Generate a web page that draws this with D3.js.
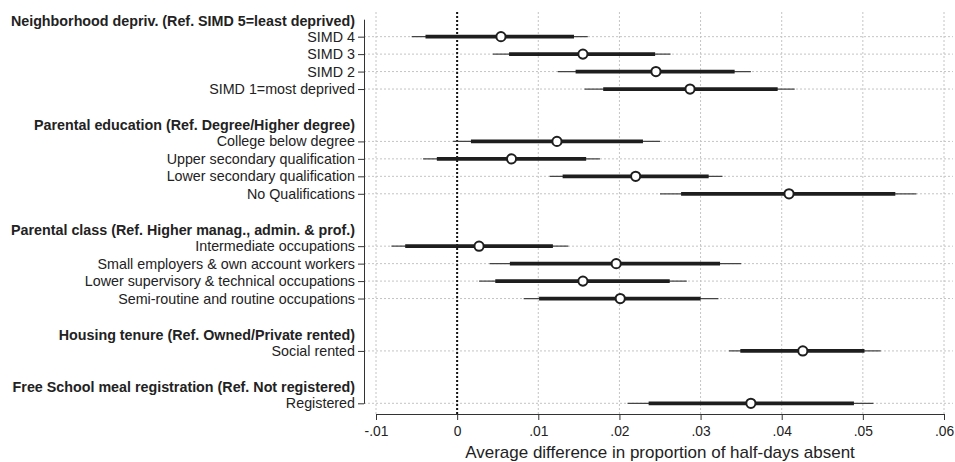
<!DOCTYPE html>
<html>
<head>
<meta charset="utf-8">
<script src="https://cdn.jsdelivr.net/npm/d3@7"></script>
<style>
  body { margin: 0; background: #fff; }
  svg { font-family: "Liberation Sans", Arial, sans-serif; }
</style>
</head>
<body>
<div id="chart"></div>
<script>
// group headers and their categories
const groupTitles = [
  "Neighborhood depriv. (Ref. SIMD 5=least deprived)",
  "Parental education (Ref. Degree/Higher degree)",
  "Parental class (Ref. Higher manag., admin. & prof.)",
  "Housing tenure (Ref. Owned/Private rented)",
  "Free School meal registration (Ref. Not registered)"
];
const groupItems = [
  ["SIMD 4", "SIMD 3", "SIMD 2", "SIMD 1=most deprived"],
  ["College below degree", "Upper secondary qualification", "Lower secondary qualification", "No Qualifications"],
  ["Intermediate occupations", "Small employers & own account workers", "Lower supervisory & technical occupations", "Semi-routine and routine occupations"],
  ["Social rented"],
  ["Registered"]
];

// estimates, outer (thin) and inner (thick) intervals, in the same order
const estimates = [0.0054, 0.0155, 0.0245, 0.0287, 0.0123, 0.0067, 0.0220, 0.0409, 0.0027, 0.0196, 0.0155, 0.0201, 0.0426, 0.0362];
const outerLow  = [-0.0056, 0.0044, 0.0124, 0.0157, -0.0005, -0.0042, 0.0114, 0.0250, -0.0081, 0.0040, 0.0027, 0.0082, 0.0335, 0.0210];
const outerHigh = [0.0161, 0.0263, 0.0362, 0.0416, 0.0250, 0.0176, 0.0327, 0.0566, 0.0137, 0.0350, 0.0283, 0.0322, 0.0522, 0.0513];
const innerLow  = [-0.0039, 0.0064, 0.0146, 0.0180, 0.0017, -0.0025, 0.0130, 0.0276, -0.0064, 0.0065, 0.0047, 0.0101, 0.0349, 0.0236];
const innerHigh = [0.0144, 0.0244, 0.0342, 0.0395, 0.0229, 0.0159, 0.0310, 0.0540, 0.0118, 0.0324, 0.0262, 0.0300, 0.0502, 0.0489];

const xTicks = [-0.01, 0, 0.01, 0.02, 0.03, 0.04, 0.05, 0.06];
const xTitle = "Average difference in proportion of half-days absent";

const width = 955, height = 462;

// lay out rows: header, items, blank gap between groups
const rows = [];
let idx = 0, k = 0;
groupTitles.forEach((t, g) => {
  rows.push({ type: "header", label: t, pos: idx++ });
  groupItems[g].forEach(lab => {
    rows.push({ type: "item", label: lab, pos: idx++, est: estimates[k], lo: outerLow[k], hi: outerHigh[k], ilo: innerLow[k], ihi: innerHigh[k] });
    k++;
  });
  idx++;
});
const items = rows.filter(r => r.type === "item");
const nRows = idx - 1;

const x = d3.scaleLinear().domain([-0.01, 0.06]).range([376, 944]);
const y = d3.scaleLinear().domain([0, nRows - 1]).range([19.2, 403.3]);
const axisX = 364, plotTop = 12, plotBottom = 414;

const svg = d3.select("#chart").append("svg")
  .attr("width", width)
  .attr("height", height);

// gridlines
svg.append("g").selectAll("line")
  .data(xTicks)
  .enter().append("line")
  .attr("x1", d => x(d)).attr("x2", d => x(d))
  .attr("y1", plotTop).attr("y2", plotBottom)
  .attr("stroke", "#c4c4c4").attr("stroke-width", 1)
  .attr("stroke-dasharray", "2,2");

svg.append("g").selectAll("line")
  .data(items)
  .enter().append("line")
  .attr("x1", axisX).attr("x2", 953)
  .attr("y1", d => y(d.pos)).attr("y2", d => y(d.pos))
  .attr("stroke", "#c4c4c4").attr("stroke-width", 1)
  .attr("stroke-dasharray", "2,2");

// zero reference line
svg.append("line")
  .attr("x1", x(0)).attr("x2", x(0))
  .attr("y1", plotTop).attr("y2", plotBottom)
  .attr("stroke", "#111").attr("stroke-width", 2)
  .attr("stroke-dasharray", "2,2");

// y axis
const yAxis = d3.axisLeft(y)
  .tickValues(items.map(d => d.pos))
  .tickFormat(p => items.find(d => d.pos === p).label)
  .tickSize(6).tickSizeOuter(0).tickPadding(3);

const gy = svg.append("g")
  .attr("transform", `translate(${axisX},0)`)
  .call(yAxis);
gy.select(".domain").attr("stroke", "#333");
gy.selectAll(".tick line").attr("stroke", "#333");
gy.selectAll(".tick text")
  .style("font-size", "14.3px")
  .attr("fill", "#222");

svg.append("g").selectAll("text")
  .data(rows.filter(r => r.type === "header"))
  .enter().append("text")
  .attr("x", axisX - 9)
  .attr("y", d => y(d.pos) + 1.5)
  .attr("dy", "0.35em")
  .attr("text-anchor", "end")
  .style("font-size", "14.3px")
  .style("font-weight", "bold")
  .attr("fill", "#222")
  .text(d => d.label);

// x axis
const xAxis = d3.axisBottom(x)
  .tickValues(xTicks)
  .tickFormat(d => d === 0 ? "0" : d3.format(".2f")(d).replace("0.", ".").replace("\u2212", "-"))
  .tickSize(6).tickSizeOuter(0).tickPadding(6);

const gx = svg.append("g")
  .attr("transform", `translate(0,${plotBottom})`)
  .call(xAxis);
gx.select(".domain").attr("stroke", "#333");
gx.selectAll(".tick line").attr("stroke", "#333");
gx.selectAll(".tick text")
  .style("font-size", "13.8px")
  .attr("fill", "#222");

svg.append("text")
  .attr("x", (x(-0.01) + x(0.06)) / 2)
  .attr("y", 458)
  .attr("text-anchor", "middle")
  .style("font-size", "17px")
  .attr("fill", "#222")
  .text(xTitle);

// intervals and points
const marks = svg.append("g").selectAll("g")
  .data(items)
  .enter().append("g");

marks.append("line")
  .attr("x1", d => x(d.lo)).attr("x2", d => x(d.hi))
  .attr("y1", d => y(d.pos)).attr("y2", d => y(d.pos))
  .attr("stroke", "#444").attr("stroke-width", 1.2);

marks.append("line")
  .attr("x1", d => x(d.ilo)).attr("x2", d => x(d.ihi))
  .attr("y1", d => y(d.pos)).attr("y2", d => y(d.pos))
  .attr("stroke", "#1e1e1e").attr("stroke-width", 3.8);

marks.append("circle")
  .attr("cx", d => x(d.est))
  .attr("cy", d => y(d.pos))
  .attr("r", 4.6)
  .attr("fill", "#fff")
  .attr("stroke", "#1e1e1e")
  .attr("stroke-width", 2);
</script>
</body>
</html>
